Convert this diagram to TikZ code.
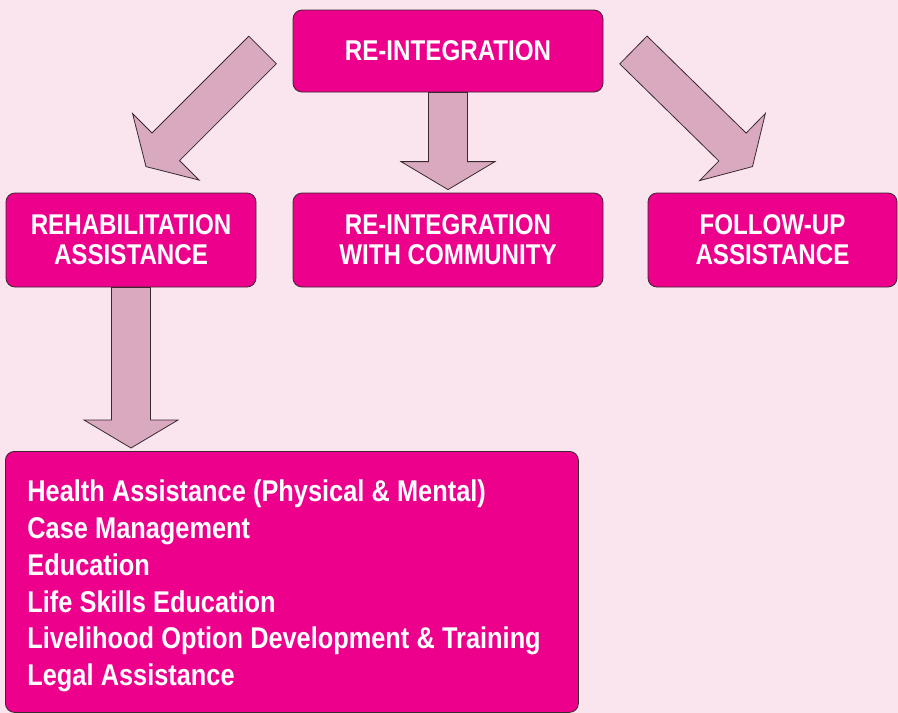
\documentclass[tikz,border=0pt]{standalone}
\usepackage{fontspec}
\setmainfont{Liberation Sans}[FakeStretch=0.845]
\usetikzlibrary{calc}
\definecolor{rosebox}{HTML}{EC008C}
\definecolor{mauve}{HTML}{D9AABF}
\definecolor{blush}{HTML}{FAE4ED}
\definecolor{edge}{HTML}{3A2A30}
\tikzset{
  box/.style={draw=edge, fill=rosebox, rounded corners=9pt, align=center, text=white,
              font=\fontsize{28.6}{30}\selectfont\bfseries, line width=0.8pt, inner sep=0pt},
  fatarr/.style={draw=edge, fill=mauve, line width=0.8pt, line join=miter},
}
\newcommand{\tightspace}{\spaceskip=0.24em\relax}
% block arrow from #1 to tip #2
\newcommand{\fatarrow}[2]{%
  \coordinate (fa-s) at (#1);
  \coordinate (fa-t) at (#2);
  \coordinate (fa-h) at ($(fa-t)!28pt!(fa-s)$);
  \filldraw[fatarr] ($(fa-s)!19.5pt!90:(fa-t)$) -- ($(fa-h)!19.5pt!90:(fa-t)$)
    -- ($(fa-h)!47pt!90:(fa-t)$) -- (fa-t) -- ($(fa-h)!47pt!-90:(fa-t)$)
    -- ($(fa-h)!19.5pt!-90:(fa-t)$) -- ($(fa-s)!19.5pt!-90:(fa-t)$) -- cycle;
}

\begin{document}
\begin{tikzpicture}[x=1pt, y=-1pt]
  \fill[blush] (0,0) rectangle (898,713);
  \useasboundingbox (0,0) rectangle (898,713);

  \node[box, minimum width=310pt, minimum height=82pt] (reint) at (448,51) {RE-INTEGRATION};
  \node[box, minimum width=250pt, minimum height=94pt] (rehab) at (131,240) {REHABILITATION\\ASSISTANCE};
  \node[box, minimum width=310pt, minimum height=94pt] (comm) at (448,240) {RE-INTEGRATION\\WITH COMMUNITY};
  \node[box, minimum width=249pt, minimum height=94pt] (follow) at (772.5,240) {FOLLOW-UP\\ASSISTANCE};
  \node[box, anchor=north west, minimum height=261pt, align=left, text width=529pt, inner xsep=22pt,
        font=\fontsize{30}{36.7}\selectfont\bfseries] (services) at (5,451)
    {\tightspace\rule{0pt}{30pt}Health Assistance (Physical \& Mental)\\Case Management\\Education\\Life Skills Education\\
     Livelihood Option Development \& Training\\Legal Assistance};

  \fatarrow{$(reint.west)+(-30,-1)$}{$(rehab.north)+(15,-26)$}
  \fatarrow{reint.south}{$(comm.north)+(0,-3)$}
  \fatarrow{$(reint.east)+(30,-1)$}{$(follow.north)+(-20,-26)$}
  \fatarrow{rehab.south}{$(rehab.south |- services.north)+(0,-3)$}
\end{tikzpicture}
\end{document}
